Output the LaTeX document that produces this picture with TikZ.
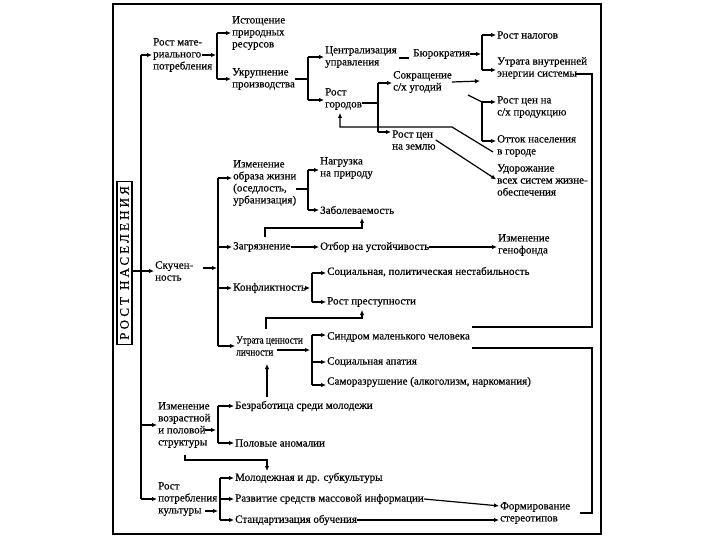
\documentclass[tikz,border=0pt]{standalone}
\usepackage{fontspec}
\setmainfont{Liberation Serif}[FakeBold=0.4]
\newfontfamily\rootfont{Liberation Serif}[LetterSpace=24,FakeBold=0.4]
\newfontfamily\narrowfont{Liberation Serif}[FakeStretch=0.84,FakeBold=0.4]
\usetikzlibrary{arrows.meta}
\begin{document}
\begin{tikzpicture}[x=1pt,y=-1pt,
  txt/.style={font=\fontsize{11}{12}\selectfont, align=left, inner sep=0pt, anchor=west},
  ln/.style={line width=1.2pt},
  arr/.style={line width=1.2pt, -{Latex[length=5pt,width=4.5pt]}, shorten >=1pt},
  frame/.style={line width=1.2pt}]
\useasboundingbox (0,0) rectangle (720,540);
\draw[frame] (113,4) rectangle (601,534);

\node[draw, line width=1.2pt, rotate=90, minimum width=163pt, minimum height=15pt, inner sep=0pt,
  font=\rootfont\fontsize{13}{13}\selectfont] (root) at (124.5,263) {РОСТ\hspace{7pt}НАСЕЛЕНИЯ};

% nodes
\node[txt] (n1) at (153,55) {Рост мате-\\риального\\потребления};
\node[txt] (n2) at (232,33) {Истощение\\природных\\ресурсов};
\node[txt] (n3) at (232,79) {Укрупнение\\производства};
\node[txt] (n4) at (325,57) {Централизация\\управления};
\node[txt] (n5) at (413,54) {Бюрократия};
\node[txt] (n6) at (497,35) {Рост налогов};
\node[txt] (n7) at (497,68) {Утрата внутренней\\энергии системы};
\node[txt] (n8) at (393,82) {Сокращение\\с/х угодий};
\node[txt] (n9) at (325,99) {Рост\\городов};
\node[txt] (n10) at (497,107) {Рост цен на\\с/х продукцию};
\node[txt] (n11) at (392,140) {Рост цен\\на землю};
\node[txt] (n12) at (497,146) {Отток населения\\в городе};
\node[txt] (n13) at (497,180) {Удорожание\\всех систем жизне-\\обеспечения};
\node[txt] (n14) at (155,271) {Скучен-\\ность};
\node[txt] (n15) at (233,183) {Изменение\\образа жизни\\(оседлость,\\урбанизация)};
\node[txt] (n16) at (320,168) {Нагрузка\\на природу};
\node[txt] (n17) at (320,210) {Заболеваемость};
\node[txt] (n18) at (233,247) {Загрязнение};
\node[txt] (n19) at (320,247) {Отбор на устойчивость};
\node[txt] (n20) at (498,245) {Изменение\\генофонда};
\node[txt] (n21) at (233,288) {Конфликтность};
\node[txt] (n22) at (327,272) {Социальная, политическая нестабильность};
\node[txt] (n23) at (327,302) {Рост преступности};
\node[txt, font=\narrowfont\fontsize{11}{12}\selectfont] (n24) at (236,346) {Утрата ценности\\личности};
\node[txt] (n25) at (327,337) {Синдром маленького человека};
\node[txt] (n26) at (327,362) {Социальная апатия};
\node[txt] (n27) at (327,382) {Саморазрушение (алкоголизм, наркомания)};
\node[txt] (n28) at (158,425) {Изменение\\возрастной\\и половой\\структуры};
\node[txt] (n29) at (235,406) {Безработица среди молодежи};
\node[txt] (n30) at (235,443) {Половые аномалии};
\node[txt] (n31) at (158,499) {Рост\\потребления\\культуры};
\node[txt] (n32) at (235,478) {Молодежная и др. субкультуры};
\node[txt] (n33) at (235,499) {Развитие средств массовой информации};
\node[txt] (n34) at (235,520) {Стандартизация обучения};
\node[txt] (n35) at (500,513) {Формирование\\стереотипов};

% trunk
\draw[ln] (141,55) -- (141,499);
\draw[arr] (141,55) -- (n1.west);
\draw[arr] (141,425) -- (n28.west);
\draw[arr] (141,499) -- (n31.west);
\draw[arr] (root.south |- n14.west) -- (n14.west);

% Рост материального потребления
\draw[arr] (202,55) -- (217,55);
\draw[ln] (217,33) -- (217,79);
\draw[arr] (217,33) -- (n2.west);
\draw[arr] (217,79) -- (n3.west);

% Укрупнение
\draw[ln] (n3.east) -- (308,79);
\draw[ln] (308,57) -- (308,100);
\draw[arr] (308,57) -- (n4.west);
\draw[arr] (308,100) -- (n9.west |- 0,100);

% Централизация - Бюрократия
\draw[ln] ([xshift=2pt]n4.east |- 0,58) -- (409,58);
\draw[arr] (n5.east) -- (482,54);
\draw[ln] (482,35) -- (482,70);
\draw[arr] (482,35) -- (n6.west);
\draw[arr] (482,70) -- (n7.west |- 0,70);

% Утрата внутренней энергии -> right side
\coordinate (c1) at (472,327);
\coordinate (c2) at (472,348);
\draw[ln] (576,74) -- (592,74) -- (592,327) -- (c1);
\draw[ln] (c2) -- (592,348) -- (592,513) -- (580,513);

% Рост городов
\draw[ln] (362,103) -- (378,103);
\draw[ln] (378,83) -- (378,132);
\draw[arr] (378,83) -- (n8.west |- 0,83);
\draw[arr] (378,132) -- (n11.west |- 0,132);
\draw[arr] (n8.east) -- (481,81);

\draw[ln] (468,95) -- (482,102);
\draw[arr] (482,102) -- (n10.west |- 0,102);
\draw[ln] (482,102) -- (482,141);
\draw[arr] (482,141) -- (n12.west |- 0,141);

\draw[arr] (493,152) -- (452,127) -- (340,127) -- (340,112);
\draw[arr] (n11.east) -- (n13.west);

% Скученность
\draw[arr] (203,268) -- (218,268);
\draw[ln] (218,178) -- (218,346);
\draw[arr] (218,178) -- (n15.west |- 0,178);
\draw[arr] (218,247) -- (n18.west);
\draw[arr] (218,288) -- (n21.west);
\draw[arr] (218,346) -- (n24.west);

\draw[ln] (296,189) -- (308,189);
\draw[ln] (308,170) -- (308,210);
\draw[arr] (308,170) -- (n16.west |- 0,170);
\draw[arr] (308,210) -- (n17.west);

\draw[arr] (265,237) -- (265,228) -- (362,228) -- (362,217);
\draw[arr] (n18.east) -- (n19.west);
\draw[arr] (n19.east) -- (n20.west |- n19.east);

\draw[arr] (n21.east) -- (311,288);
\draw[ln] (312,273) -- (312,302);
\draw[arr] (312,273) -- (n22.west |- 0,273);
\draw[arr] (312,302) -- (n23.west);

\draw[arr] (266,329) -- (266,318) -- (362,318) -- (362,309);
\draw[arr] (277,350) -- (311,350);
\draw[ln] (312,335) -- (312,385);
\draw[arr] (312,335) -- (n25.west |- 0,335);
\draw[arr] (312,362) -- (n26.west);
\draw[arr] (312,385) -- (n27.west |- 0,385);

% Изменение возрастной
\draw[arr] (205,430) -- (217,430);
\draw[ln] (218,406) -- (218,443);
\draw[arr] (218,406) -- (n29.west);
\draw[arr] (218,443) -- (n30.west);
\draw[arr] (267,397) -- (267,363);
\draw[arr] (185,455) -- (185,460) -- (267,460) -- (267,472);

% Рост потребления культуры
\draw[arr] (205,511) -- (219,511);
\draw[ln] (220,478) -- (220,520);
\draw[arr] (220,478) -- (n32.west);
\draw[arr] (220,499) -- (n33.west);
\draw[arr] (220,520) -- (n34.west);
\draw[arr] (n33.east) -- (n35.west |- 0,506);
\draw[arr] (n34.east) -- (n35.west |- 0,520);
\end{tikzpicture}
\end{document}
